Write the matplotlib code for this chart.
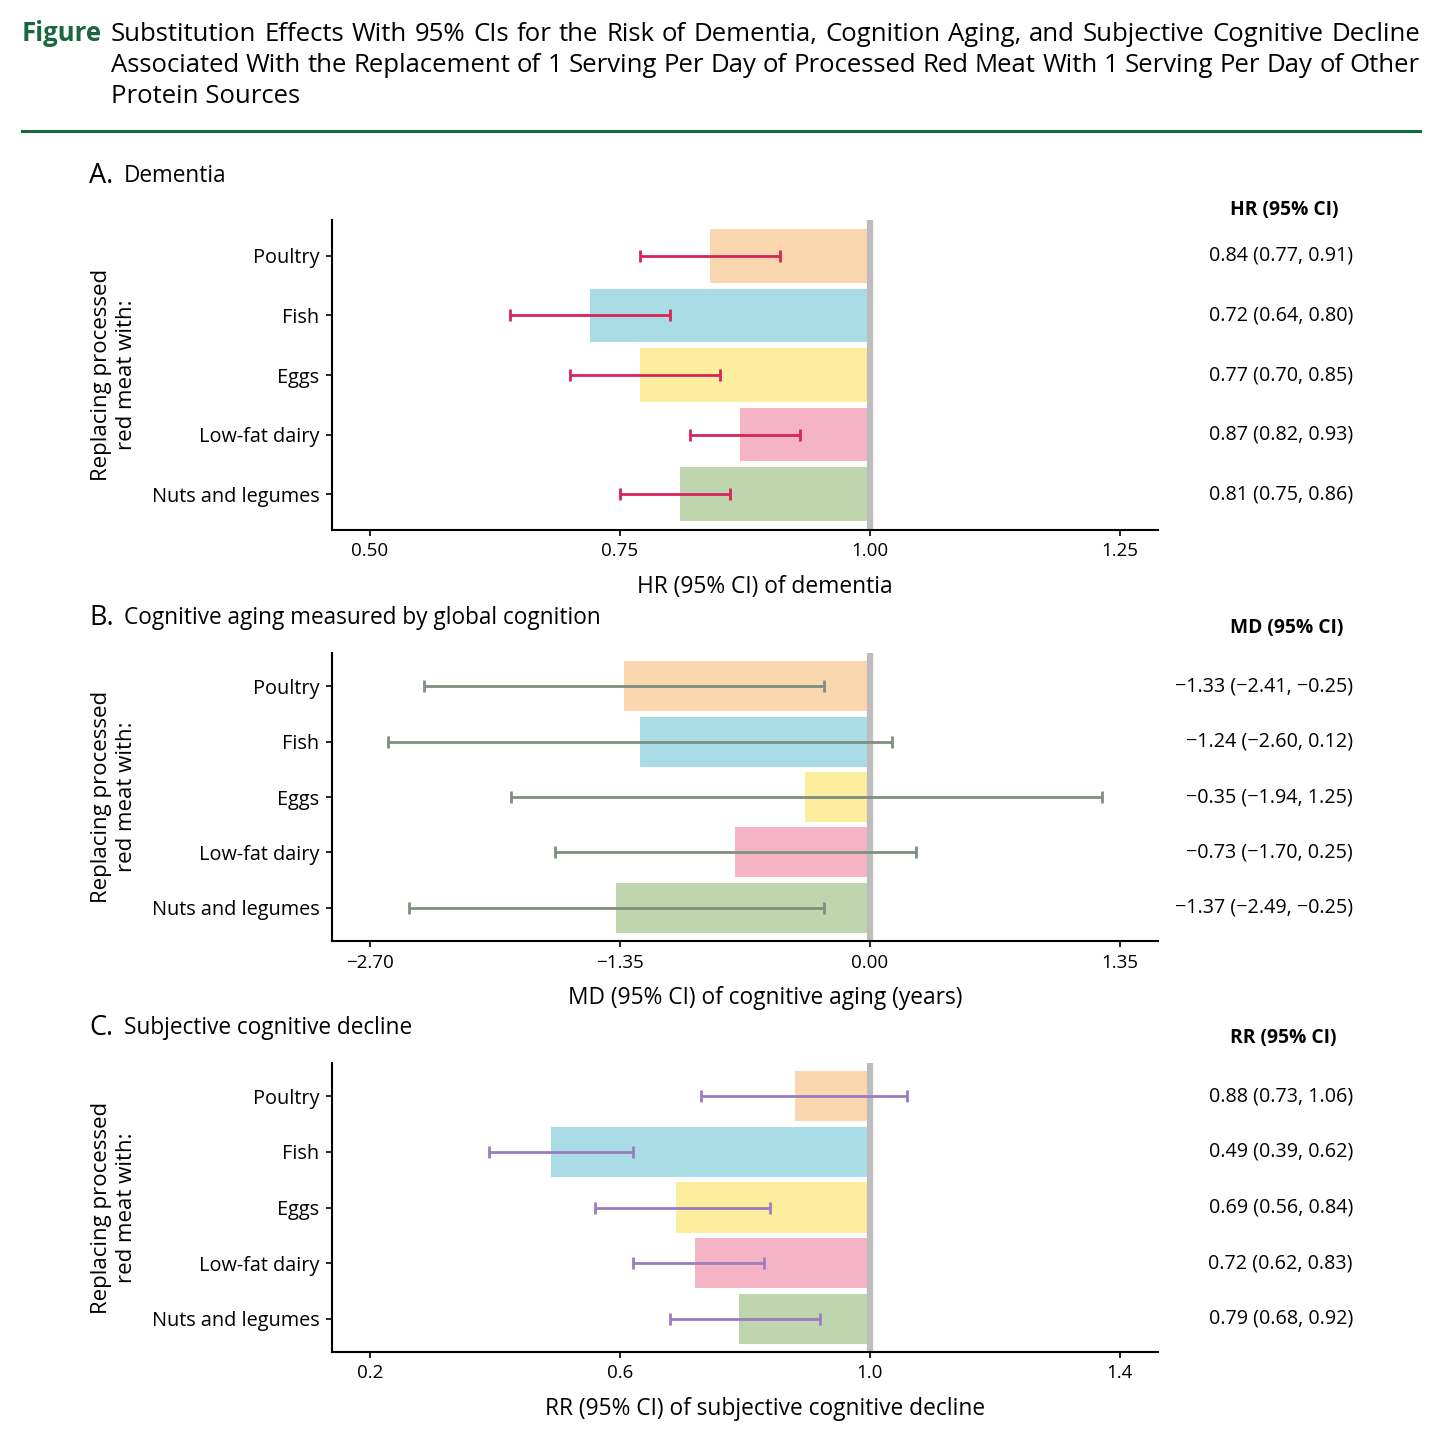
import matplotlib
matplotlib.use('Agg')
import matplotlib.pyplot as plt
from matplotlib.lines import Line2D

plt.rcParams['font.family'] = ['Open Sans', 'DejaVu Sans']

# data
foods = ['Poultry', 'Fish', 'Eggs', 'Low-fat dairy', 'Nuts and legumes']
bar_colors = ['#fbd7b0', '#a9dce5', '#fdee9e', '#f4b4c6', '#bfd5ae']

hr = [0.84, 0.72, 0.77, 0.87, 0.81]
hr_lo = [0.77, 0.64, 0.70, 0.82, 0.75]
hr_hi = [0.91, 0.80, 0.85, 0.93, 0.86]

md = [-1.33, -1.24, -0.35, -0.73, -1.37]
md_lo = [-2.41, -2.60, -1.94, -1.70, -2.49]
md_hi = [-0.25, 0.12, 1.25, 0.25, -0.25]

rr = [0.88, 0.49, 0.69, 0.72, 0.79]
rr_lo = [0.73, 0.39, 0.56, 0.62, 0.68]
rr_hi = [1.06, 0.62, 0.84, 0.83, 0.92]

title_lines = ['Substitution Effects With 95% CIs for the Risk of Dementia, Cognition Aging, and Subjective Cognitive Decline',
               'Associated With the Replacement of 1 Serving Per Day of Processed Red Meat With 1 Serving Per Day of Other',
               'Protein Sources']

W, H = 1456, 1434
fig = plt.figure(figsize=(W / 100, H / 100), dpi=100)
green = '#1a663d'
r = fig.canvas.get_renderer()


def fx(x):
    return x / W


def fy(y):
    return 1 - y / H


def fmt(v, nd=2):
    return f'{v:.{nd}f}'.replace('-', '\u2212')


def justified(words, x0, x1, y, size):
    objs = [fig.text(0, fy(y), w, fontsize=size, va='baseline') for w in words]
    widths = [o.get_window_extent(r).width for o in objs]
    gap = (x1 - x0 - sum(widths)) / (len(words) - 1)
    x = x0
    for o, w in zip(objs, widths):
        o.set_x(fx(x))
        x += w + gap


# header: pick a size so the first line fills the width with normal spaces
probe = fig.text(0, 0, title_lines[0], fontsize=10)
hsize = 10 * 1300 / probe.get_window_extent(r).width
probe.remove()
hsize = min(hsize, 18.5)

fig.text(fx(22), fy(41), 'Figure', fontsize=hsize, fontweight='bold', color=green, va='baseline')
justified(title_lines[0].split(), 111, 1420, 41, hsize)
justified(title_lines[1].split(), 111, 1420, 72, hsize)
fig.text(fx(111), fy(103), title_lines[2], fontsize=hsize, va='baseline')
fig.add_artist(Line2D([fx(22), fx(1420)], [fy(131), fy(131)], lw=2.2, color=green))

panels = [
    dict(letter='A.', title='Dementia', ty=176, top=220, bottom=530,
         est=hr, lo=hr_lo, hi=hr_hi, ref=1.0, xlim=(0.462, 1.288),
         ticks=[0.50, 0.75, 1.00, 1.25], nd=2, ecolor='#d7245a',
         xlabel='HR (95% CI) of dementia', head='HR (95% CI)', hy=210),
    dict(letter='B.', title='Cognitive aging measured by global cognition', ty=618, top=653, bottom=941,
         est=md, lo=md_lo, hi=md_hi, ref=0.0, xlim=(-2.905, 1.555),
         ticks=[-2.70, -1.35, 0.00, 1.35], nd=2, ecolor='#7d8f7f',
         xlabel='MD (95% CI) of cognitive aging (years)', head='MD (95% CI)', hy=628),
    dict(letter='C.', title='Subjective cognitive decline', ty=1028, top=1063, bottom=1352,
         est=rr, lo=rr_lo, hi=rr_hi, ref=1.0, xlim=(0.139, 1.461),
         ticks=[0.2, 0.6, 1.0, 1.4], nd=1, ecolor='#9b7cc0',
         xlabel='RR (95% CI) of subjective cognitive decline', head='RR (95% CI)', hy=1038),
]

for p in panels:
    ax = fig.add_axes([fx(332), fy(p['bottom']), fx(1158) - fx(332), (p['bottom'] - p['top']) / H])
    ypos = list(range(len(foods)))
    est, lo, hi, ref = p['est'], p['lo'], p['hi'], p['ref']
    ax.barh(ypos, [ref - e for e in est], left=est, height=0.9, color=bar_colors, zorder=1)
    ax.axvline(ref, color='#bdbdbd', lw=4.5, zorder=2)
    ax.errorbar(est, ypos, xerr=[[e - l for e, l in zip(est, lo)], [h - e for e, h in zip(est, hi)]],
                fmt='none', ecolor=p['ecolor'], elinewidth=2, capsize=4.5, capthick=2, zorder=3)
    ax.set_xlim(*p['xlim'])
    ax.set_ylim(len(foods) - 0.4, -0.6)
    ax.set_xticks(p['ticks'])
    ax.set_xticklabels([fmt(t, p['nd']) for t in p['ticks']])
    ax.set_yticks(ypos)
    ax.set_yticklabels(foods)
    for s in ['top', 'right']:
        ax.spines[s].set_visible(False)
    for s in ['left', 'bottom']:
        ax.spines[s].set_linewidth(1.5)
    ax.tick_params(length=4, width=1.2, pad=5)
    ax.tick_params(axis='y', labelsize=14.3)
    ax.tick_params(axis='x', labelsize=13.5, pad=5)

    # panel titles and labels
    fig.text(fx(89), fy(p['ty']), p['letter'], fontsize=19.5, va='center')
    fig.text(fx(124), fy(p['ty']), p['title'], fontsize=16.3, va='center')
    fig.text(fx(765), fy(p['bottom'] + 57), p['xlabel'], fontsize=16.4, ha='center', va='center')
    fig.text(fx(114), fy((p['top'] + p['bottom']) / 2), 'Replacing processed\nred meat with:',
             fontsize=16, rotation=90, ha='center', va='center', linespacing=1.25)

    # value column
    fig.text(fx(1230), fy(p['hy']), p['head'], fontsize=13.9, fontweight='bold', va='center')
    for i in ypos:
        yy = p['top'] + (p['bottom'] - p['top']) * (i + 0.6) / (len(foods) + 0.2)
        fig.text(fx(1353), fy(yy),
                 f"{fmt(est[i])} ({fmt(lo[i])}, {fmt(hi[i])})",
                 fontsize=14.2, ha='right', va='center')

fig.savefig('out.png', dpi=100)
